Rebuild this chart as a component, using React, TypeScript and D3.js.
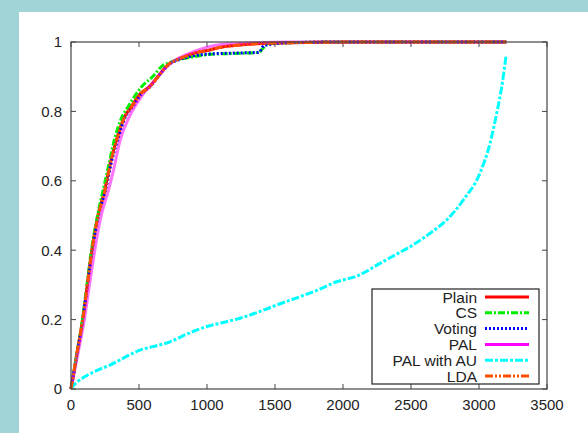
import React from "react";
import * as d3 from "d3";

const xTicks = [0, 500, 1000, 1500, 2000, 2500, 3000, 3500];
const yTicks = [0, 0.2, 0.4, 0.6, 0.8, 1];
const yTickLabels = ["0", "0.2", "0.4", "0.6", "0.8", "1"];

const seriesNames = ["Plain", "CS", "Voting", "PAL", "PAL with AU", "LDA"];

const plainX = [0, 22, 44, 86, 120, 153, 198, 248, 288, 334, 388, 444, 508, 578, 648, 712, 800, 900, 1020, 1100, 1200, 1400, 1800, 2200, 3200];
const plainY = [0, 0.05, 0.103, 0.2, 0.3, 0.4, 0.5, 0.573, 0.65, 0.718, 0.78, 0.814, 0.85, 0.872, 0.905, 0.934, 0.952, 0.967, 0.977, 0.985, 0.99, 0.996, 0.999, 1, 1];

const csX = [0, 21, 42, 84, 117, 150, 195, 240, 280, 320, 370, 421, 470, 519, 600, 679, 720, 800, 900, 1007, 1200, 1380, 1412, 1450, 1600, 2000, 3200];
const csY = [0, 0.05, 0.1, 0.2, 0.3, 0.4, 0.5, 0.58, 0.65, 0.72, 0.78, 0.814, 0.845, 0.871, 0.9, 0.934, 0.94, 0.95, 0.957, 0.964, 0.967, 0.97, 0.982, 0.995, 0.998, 1, 1];

const votingX = [0, 22, 44, 88, 122, 157, 203, 255, 295, 345, 395, 455, 520, 590, 660, 720, 800, 900, 1000, 1200, 1380, 1420, 1600, 2000, 3200];
const votingY = [0, 0.05, 0.1, 0.2, 0.3, 0.4, 0.5, 0.575, 0.65, 0.72, 0.78, 0.814, 0.85, 0.875, 0.91, 0.935, 0.95, 0.96, 0.965, 0.968, 0.97, 0.99, 0.998, 1, 1];

const palX = [0, 25, 50, 98, 136, 175, 222, 276, 318, 362, 412, 470, 530, 595, 660, 720, 800, 900, 1000, 1100, 1300, 1600, 3200];
const palY = [0, 0.05, 0.1, 0.2, 0.3, 0.4, 0.5, 0.573, 0.64, 0.718, 0.77, 0.814, 0.85, 0.88, 0.91, 0.935, 0.955, 0.972, 0.985, 0.993, 0.997, 1, 1];

const palAuX = [0, 17, 100, 200, 287, 400, 507, 600, 728, 850, 998, 1100, 1243, 1400, 1512, 1684, 1800, 1953, 2100, 2272, 2400, 2493, 2640, 2762, 2885, 3007, 3081, 3130, 3167, 3200];
const palAuY = [0, 0.009, 0.035, 0.055, 0.069, 0.092, 0.112, 0.122, 0.136, 0.158, 0.18, 0.19, 0.204, 0.225, 0.242, 0.266, 0.283, 0.309, 0.325, 0.362, 0.39, 0.41, 0.449, 0.487, 0.545, 0.622, 0.708, 0.794, 0.871, 0.963];

const ldaX = [0, 21, 43, 86, 120, 154, 200, 250, 290, 336, 390, 446, 510, 581, 650, 713, 800, 900, 1022, 1100, 1200, 1400, 1800, 2200, 3200];
const ldaY = [0, 0.05, 0.103, 0.2, 0.3, 0.4, 0.5, 0.573, 0.65, 0.718, 0.78, 0.814, 0.85, 0.871, 0.905, 0.934, 0.952, 0.967, 0.977, 0.985, 0.99, 0.996, 0.999, 1, 1];

const seriesData = [
  [plainX, plainY],
  [csX, csY],
  [votingX, votingY],
  [palX, palY],
  [palAuX, palAuY],
  [ldaX, ldaY],
];

const styles = [
  { color: "#ff0000", dash: "none", opacity: 1 },
  { color: "#00ee00", dash: "7,2,2,2", opacity: 1 },
  { color: "#0000ff", dash: "2,2", opacity: 1 },
  { color: "#ff00ff", dash: "none", opacity: 0.55 },
  { color: "#00ffff", dash: "8,2,3,2", opacity: 1 },
  { color: "#ff5000", dash: "8,2,2,2,2,2", opacity: 1 },
];

export default function App() {
  const W = 588;
  const H = 433;
  const left = 71, right = 547, top = 42, bottom = 389;
  const x = d3.scaleLinear().domain([0, 3500]).range([left, right]);
  const y = d3.scaleLinear().domain([0, 1]).range([bottom, top]);
  const line = d3
    .line<[number, number]>()
    .x((d) => x(d[0]))
    .y((d) => y(d[1]))
    .curve(d3.curveMonotoneX);
  const font = "'Liberation Sans', Arial, Helvetica, sans-serif";
  const tickLen = 5;
  const legX0 = 372, legX1 = 539, legY0 = 289, legY1 = 384;
  const rowY = (i: number) => 297 + i * 15.8;

  return (
    <svg
      width={W}
      height={H}
      style={{ position: "fixed", left: 0, top: 0 }}
      fontFamily={font}
    >
      <rect x={0} y={0} width={W} height={H} fill="#a0d4d7" />
      <rect x={19} y={12} width={W - 19} height={H - 12} fill="#ffffff" />
      {/* ticks */}
      {xTicks.map((t) => (
        <g key={"xt" + t}>
          <line x1={x(t)} x2={x(t)} y1={bottom} y2={bottom - tickLen} stroke="#444" />
          <line x1={x(t)} x2={x(t)} y1={top} y2={top + tickLen} stroke="#444" />
          <text x={x(t)} y={410} fontSize={15} textAnchor="middle" fill="#222">
            {t}
          </text>
        </g>
      ))}
      {yTicks.map((t, i) => (
        <g key={"yt" + t}>
          <line x1={left} x2={left + tickLen} y1={y(t)} y2={y(t)} stroke="#444" />
          <line x1={right} x2={right - tickLen} y1={y(t)} y2={y(t)} stroke="#444" />
          <text x={62} y={y(t)} dy="0.36em" fontSize={15} textAnchor="end" fill="#222">
            {yTickLabels[i]}
          </text>
        </g>
      ))}
      {/* series */}
      {seriesData.map(([xs, ys], i) => {
        const pts = xs.map((v, j) => [v, ys[j]] as [number, number]);
        return (
          <path
            key={"s" + i}
            d={line(pts) || ""}
            fill="none"
            stroke={styles[i].color}
            strokeOpacity={styles[i].opacity}
            strokeWidth={3}
            strokeDasharray={styles[i].dash}
            strokeLinejoin="round"
          />
        );
      })}
      {/* frame */}
      <rect
        x={left}
        y={top}
        width={right - left}
        height={bottom - top}
        fill="none"
        stroke="#444"
        strokeWidth={1.2}
      />
      {/* legend */}
      <rect
        x={legX0}
        y={legY0}
        width={legX1 - legX0}
        height={legY1 - legY0}
        fill="#ffffff"
        stroke="#222"
        strokeWidth={1.2}
      />
      {seriesNames.map((n, i) => (
        <g key={"l" + i}>
          <text x={477} y={rowY(i)} dy="0.36em" fontSize={15.5} textAnchor="end" fill="#222">
            {n}
          </text>
          <line
            x1={485}
            x2={529}
            y1={rowY(i)}
            y2={rowY(i)}
            stroke={styles[i].color}
            strokeWidth={3}
            strokeDasharray={styles[i].dash}
          />
        </g>
      ))}
    </svg>
  );
}
